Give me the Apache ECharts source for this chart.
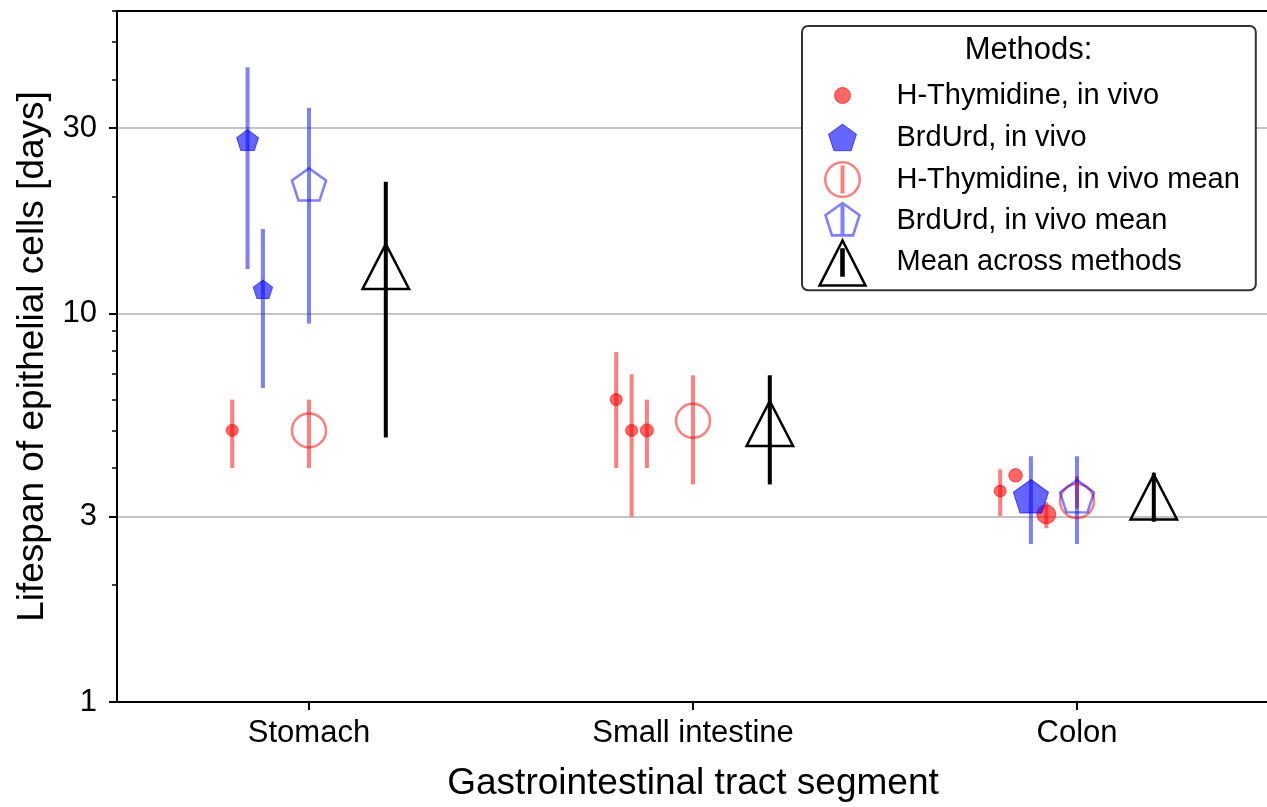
<!DOCTYPE html>
<html>
<head>
<meta charset="utf-8">
<script src="https://cdn.jsdelivr.net/npm/echarts@6/dist/echarts.min.js"></script>
<style>
html,body{margin:0;padding:0;background:#fff;}
#chart{width:1267px;height:807px;}
</style>
</head>
<body>
<div id="chart"></div>
<script>
// ---------------- DATA ----------------
const categories = ['Stomach', 'Small intestine', 'Colon'];
const yMajorTicks = [1, 3, 10, 30];
const yMinorTicks = [2, 4, 5, 6, 7, 8, 9, 20, 40, 50, 60];

// H-Thymidine, in vivo (individual studies)
const thyX = [-0.2, 0.8, 0.84, 0.88, 1.8, 1.84, 1.92];
const thyY = [5.0, 6.0, 5.0, 5.0, 3.49, 3.83, 3.04];
const thyLow = [4.0, 4.0, 3.0, 4.0, 3.01, null, 2.80];
const thyHigh = [6.0, 7.95, 6.97, 6.0, 3.97, null, 3.27];

// BrdUrd, in vivo (individual studies)
const brdX = [-0.16, -0.12, 1.88];
const brdY = [28.1, 11.6, 3.42];
const brdLow = [13.0, 6.43, 2.55];
const brdHigh = [43.0, 16.5, 4.29];

// H-Thymidine, in vivo mean
const thyMeanX = [0, 1, 2];
const thyMeanY = [5.0, 5.29, 3.29];
const thyMeanLow = [4.0, 3.63, 3.15];
const thyMeanHigh = [6.0, 6.93, 3.81];

// BrdUrd, in vivo mean
const brdMeanX = [0, 2];
const brdMeanY = [21.7, 3.42];
const brdMeanLow = [9.41, 2.55];
const brdMeanHigh = [33.8, 4.29];

// Mean across methods
const allMeanX = [0.2, 1.2, 2.2];
const allMeanY = [13.2, 5.21, 3.37];
const allMeanLow = [4.79, 3.63, 2.91];
const allMeanHigh = [21.8, 6.93, 3.89];

// ---------------- STYLE ----------------
const thyDotDiam = [12, 12, 12, 13, 12, 13.5, 19];   // marker diameters (px)
const brdPentR = [11.5, 10.2, 18.5];                  // marker circumradii (px)

const FONT = 'Liberation Sans, Arial, Helvetica, sans-serif';
const RED_L = 'rgba(255,0,0,0.5)';
const RED_F = 'rgba(255,0,0,0.6)';
const BLUE_L = 'rgba(0,0,255,0.5)';
const BLUE_F = 'rgba(0,0,255,0.6)';
const PENT = 'path://M0,-1L0.9511,-0.309L0.5878,0.809L-0.5878,0.809L-0.9511,-0.309Z';
const NONE = 'rgba(0,0,0,0)';

function errSeries(name, xs, lo, hi, color, width) {
  const data = [];
  xs.forEach((x, i) => { if (lo[i] != null && hi[i] != null) data.push([x, lo[i], hi[i]]); });
  return {
    type: 'custom', name: name, z: 2, silent: true, data: data,
    encode: { x: 0, y: [1, 2] },
    renderItem: function (params, api) {
      const a = api.coord([api.value(0), api.value(1)]);
      const b = api.coord([api.value(0), api.value(2)]);
      return { type: 'line', shape: { x1: a[0], y1: a[1], x2: b[0], y2: b[1] },
               style: { stroke: color, lineWidth: width, lineCap: 'butt' } };
    }
  };
}

// legend icons (box x:-25..49, y:-25..25, px units)
const BOX = 'M-25,-25M49,25';
const iconDot = 'path://' + BOX + 'M-8,0A8,8,0,1,1,8,0A8,8,0,1,1,-8,0Z';
const iconPent = 'path://' + BOX + 'M0,-13.7L13.98,-3.54L8.64,12.89L-8.64,12.89L-13.98,-3.54Z';
const iconCircMean = 'path://' + BOX +
  'M-18.5,0A18.5,18.5,0,1,1,18.5,0A18.5,18.5,0,1,1,-18.5,0Z' +
  'M-16,0A16,16,0,1,0,16,0A16,16,0,1,0,-16,0Z' +
  'M-2,-14L2,-14L2,14L-2,14Z';
const iconPentMean = 'path://' + BOX +
  'M0,-19.5L18.55,-6.03L11.46,15.78L-11.46,15.78L-18.55,-6.03Z' +
  'M0,-16.3L-15.5,-5.04L-9.58,13.19L9.58,13.19L15.5,-5.04Z' +
  'M-2,-17.9L2,-17.9L2,14.5L-2,14.5Z';
const iconTri = 'path://' + BOX +
  'M0,-24.5L25,24.5L-25,24.5Z' +
  'M0,-19L-20.9,22L20.9,22Z' +
  'M-2.3,-14L2.3,-14L2.3,14.5L-2.3,14.5Z';

const series = [
  {
    type: 'scatter', name: 'H-Thymidine, in vivo', z: 3, symbol: 'circle',
    data: thyX.map((x, i) => ({ value: [x, thyY[i]], symbolSize: thyDotDiam[i] })),
    itemStyle: { color: RED_F, borderColor: RED_F, borderWidth: 1, opacity: 1 },
    emphasis: { disabled: true }
  },
  {
    type: 'scatter', name: 'BrdUrd, in vivo', z: 3, symbol: PENT, symbolOffset: [0, '5.28%'],
    data: brdX.map((x, i) => ({ value: [x, brdY[i]], symbolSize: [1.902 * brdPentR[i], 1.809 * brdPentR[i]] })),
    itemStyle: { color: BLUE_F, borderColor: BLUE_F, borderWidth: 1, opacity: 1 },
    emphasis: { disabled: true }
  },
  {
    type: 'scatter', name: 'H-Thymidine, in vivo mean', z: 3, symbol: 'circle', symbolSize: 34,
    data: thyMeanX.map((x, i) => [x, thyMeanY[i]]),
    itemStyle: { color: NONE, borderColor: RED_L, borderWidth: 2.5, opacity: 1 },
    emphasis: { disabled: true }
  },
  {
    type: 'scatter', name: 'BrdUrd, in vivo mean', z: 3, symbol: PENT, symbolOffset: [0, '5.28%'],
    symbolSize: [1.902 * 17.9, 1.809 * 17.9],
    data: brdMeanX.map((x, i) => [x, brdMeanY[i]]),
    itemStyle: { color: NONE, borderColor: BLUE_L, borderWidth: 2.5, opacity: 1 },
    emphasis: { disabled: true }
  },
  {
    type: 'scatter', name: 'Mean across methods', z: 3, symbol: 'triangle', symbolSize: [46.5, 45],
    data: allMeanX.map((x, i) => [x, allMeanY[i]]),
    itemStyle: { color: NONE, borderColor: '#000', borderWidth: 2.5, opacity: 1 },
    emphasis: { disabled: true }
  },
  errSeries('H-Thymidine, in vivo', thyX, thyLow, thyHigh, RED_L, 4),
  errSeries('BrdUrd, in vivo', brdX, brdLow, brdHigh, BLUE_L, 4),
  errSeries('H-Thymidine, in vivo mean', thyMeanX, thyMeanLow, thyMeanHigh, RED_L, 4),
  errSeries('BrdUrd, in vivo mean', brdMeanX, brdMeanLow, brdMeanHigh, BLUE_L, 4),
  errSeries('Mean across methods', allMeanX, allMeanLow, allMeanHigh, '#000', 4)
];

const option = {
  animation: false,
  backgroundColor: '#fff',
  grid: {
    left: 117, top: 11, right: -2, bottom: 105,
    show: true, borderColor: '#000', borderWidth: 2, backgroundColor: NONE,
    outerBoundsMode: 'none', containLabel: false
  },
  xAxis: {
    type: 'value', min: -0.5, max: 2.5,
    name: 'Gastrointestinal tract segment', nameLocation: 'middle', nameGap: 63,
    nameTextStyle: { fontFamily: FONT, fontSize: 37, color: '#000' },
    axisLine: { show: true, onZero: false, lineStyle: { color: '#000', width: 2 } },
    axisTick: { show: true, customValues: [0, 1, 2], length: 8, lineStyle: { color: '#000', width: 2 } },
    axisLabel: {
      show: true, customValues: [0, 1, 2], margin: 16,
      fontFamily: FONT, fontSize: 31, color: '#000',
      formatter: v => categories[Math.round(v)]
    },
    splitLine: { show: false }
  },
  yAxis: [
    {
      type: 'log', logBase: 10, min: 1, max: 60,
      name: 'Lifespan of epithelial cells [days]', nameLocation: 'middle', nameGap: 65, nameRotate: 90,
      nameTextStyle: { fontFamily: FONT, fontSize: 37, color: '#000' },
      axisLine: { show: true, onZero: false, lineStyle: { color: '#000', width: 2 } },
      axisTick: { show: true, customValues: yMajorTicks, length: 8, lineStyle: { color: '#000', width: 2 } },
      axisLabel: {
        show: true, customValues: yMajorTicks, margin: 20,
        fontFamily: FONT, fontSize: 31, color: '#000',
        formatter: v => String(Math.round(v))
      },
      splitLine: { show: true, lineStyle: { color: '#b0b0b0', width: 1.5 } }
    },
    {
      type: 'log', logBase: 10, min: 1, max: 60, position: 'left', offset: 0,
      axisLine: { show: false, onZero: false },
      axisTick: { show: true, customValues: yMinorTicks, length: 5, lineStyle: { color: '#000', width: 1.5 } },
      axisLabel: { show: false },
      splitLine: { show: false }
    }
  ],
  legend: {
    orient: 'vertical', left: 802, top: 26,
    padding: [44, 16, 3, 15],
    itemWidth: 74, itemHeight: 50, itemGap: -8.7,
    backgroundColor: '#fff', borderColor: '#333', borderWidth: 2, borderRadius: 6,
    selectedMode: false,
    textStyle: { fontFamily: FONT, fontSize: 29, color: '#000' },
    data: [
      { name: 'H-Thymidine, in vivo', icon: iconDot, itemStyle: { color: RED_F, borderColor: RED_F, borderWidth: 1, opacity: 1 } },
      { name: 'BrdUrd, in vivo', icon: iconPent, itemStyle: { color: BLUE_F, borderColor: BLUE_F, borderWidth: 1, opacity: 1 } },
      { name: 'H-Thymidine, in vivo mean', icon: iconCircMean, itemStyle: { color: RED_L, borderWidth: 0, opacity: 1 } },
      { name: 'BrdUrd, in vivo mean', icon: iconPentMean, itemStyle: { color: BLUE_L, borderWidth: 0, opacity: 1 } },
      { name: 'Mean across methods', icon: iconTri, itemStyle: { color: '#000', borderWidth: 0, opacity: 1 } }
    ]
  },
  graphic: [
    {
      type: 'text', x: 1028.5, y: 50, z: 100,
      style: {
        text: 'Methods:', fontFamily: FONT, fontSize: 31, fill: '#000',
        textAlign: 'center', textVerticalAlign: 'middle', verticalAlign: 'middle'
      }
    }
  ],
  series: series
};

const chart = echarts.init(document.getElementById('chart'), null, { renderer: 'canvas' });
chart.setOption(option);
</script>
</body>
</html>
